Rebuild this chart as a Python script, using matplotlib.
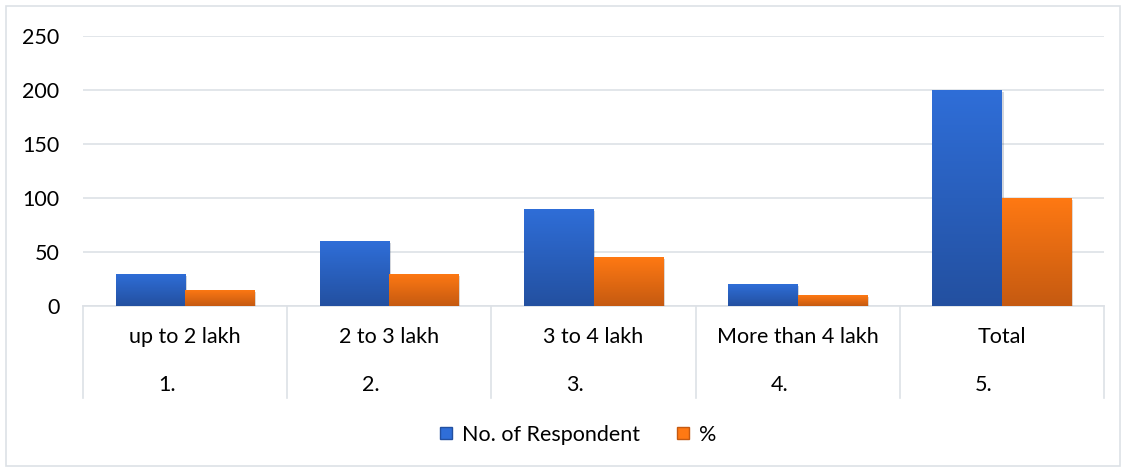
import numpy as np
import matplotlib
matplotlib.use("Agg")
import matplotlib.pyplot as plt
import matplotlib.patheffects as pe
from matplotlib.colors import LinearSegmentedColormap
from matplotlib.patches import Rectangle
from matplotlib.lines import Line2D

plt.rcParams['font.family'] = ['Lato', 'DejaVu Sans']

categories = ["up to 2 lakh", "2 to 3 lakh", "3 to 4 lakh", "More than 4 lakh", "Total"]
serial_no = ["1.", "2.", "3.", "4.", "5."]
respondents = [30, 60, 90, 20, 200]
percent = [15, 30, 45, 10, 100]
series_names = ["No. of Respondent", "%"]

BLUE_TOP, BLUE_BOT = "#2f6ed8", "#2350a0"
ORANGE_TOP, ORANGE_BOT = "#ff7913", "#c55a11"
GRID = "#dde1e6"
FS = 15.5

W, H = 1127, 470
fig = plt.figure(figsize=(W / 100, H / 100), dpi=100)
ax = fig.add_axes([83 / W, 1 - 306 / H, (1104 - 83) / W, 270 / H])

# outer chart border
fig.add_artist(Rectangle((6 / W, 4 / H), 1114 / W, 460 / H, transform=fig.transFigure,
                         fill=False, edgecolor=GRID, lw=1.2))

x = np.arange(len(categories))
width = 0.34


def gradient_bars(xpos, vals, top, bot):
    cmap = LinearSegmentedColormap.from_list("g", [bot, top])
    grad = np.linspace(0, 1, 256).reshape(-1, 1)
    bars = ax.bar(xpos, vals, width, color=top, zorder=3,
                  path_effects=[pe.SimplePatchShadow(offset=(1.2, -1.5), alpha=0.18), pe.Normal()])
    for b in bars:
        im = ax.imshow(grad, cmap=cmap, origin="lower", aspect="auto", zorder=4,
                       extent=(b.get_x(), b.get_x() + b.get_width(), 0, b.get_height()))
        im.set_clip_path(b)
    return bars


gradient_bars(x - width / 2, respondents, BLUE_TOP, BLUE_BOT)
gradient_bars(x + width / 2, percent, ORANGE_TOP, ORANGE_BOT)

ax.set_xlim(-0.5, len(categories) - 0.5)
ax.set_ylim(0, 250)
ax.set_yticks(range(0, 251, 50))
ax.tick_params(axis="y", length=0, pad=17, labelsize=FS)
ax.tick_params(axis="x", length=0, labelbottom=False)
ax.grid(axis="y", color=GRID, lw=1.2, zorder=0)
for s in ax.spines.values():
    s.set_visible(False)

# two-level category axis
tr = ax.get_xaxis_transform()
depth = 92 / 270
ax.plot([-0.5, len(categories) - 0.5], [0, 0], transform=tr, color=GRID, lw=1.2,
        clip_on=False, zorder=2)
for b in np.arange(-0.5, len(categories), 1.0):
    ax.plot([b, b], [0, -depth], transform=tr, color=GRID, lw=1.2, clip_on=False)
for xi, lab, num in zip(x, categories, serial_no):
    ax.text(xi, -31 / 270, lab, transform=tr, ha="center", va="center", fontsize=FS)
    ax.text(xi - 0.09, -79 / 270, num, transform=tr, ha="center", va="center", fontsize=FS)

handles = [Line2D([], [], marker="s", ls="", markersize=9, markerfacecolor=BLUE_TOP,
                  markeredgecolor=BLUE_BOT),
           Line2D([], [], marker="s", ls="", markersize=9, markerfacecolor=ORANGE_TOP,
                  markeredgecolor=ORANGE_BOT)]
fig.legend(handles, series_names, loc="center", bbox_to_anchor=(577 / W, 1 - 435 / H),
           ncol=2, frameon=False, fontsize=FS, handletextpad=0.35, columnspacing=1.6,
           handlelength=0.8)

fig.savefig("out.png", dpi=100)
